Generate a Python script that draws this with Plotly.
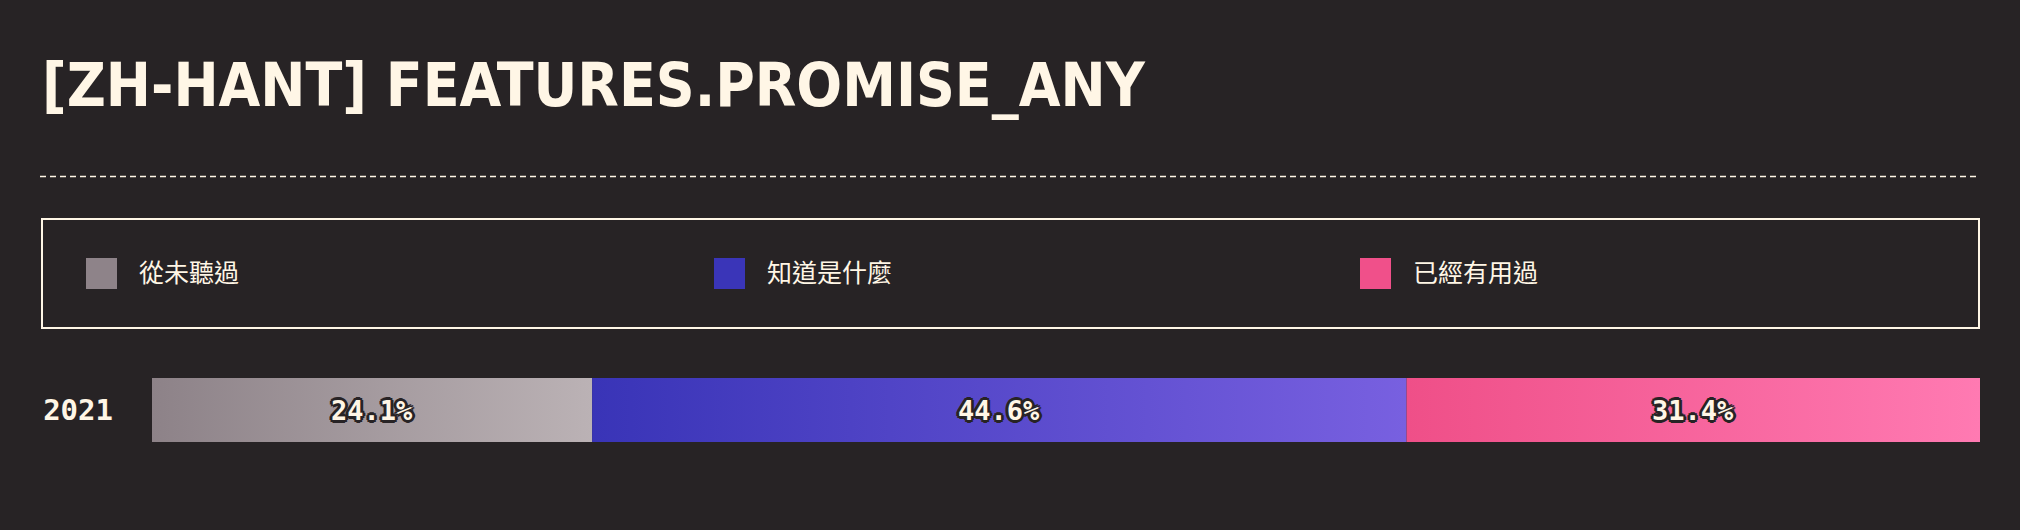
import plotly.graph_objects as go

# ---- data ----
title_text = "[ZH-HANT] FEATURES.PROMISE_ANY"
years = ["2021"]
categories = ["從未聽過", "知道是什麼", "已經有用過"]
values = [24.1, 44.6, 31.4]

# ---- styles ----
BG = "#272325"
CREAM = "#fff6e6"
swatch_colors = ["#8e8389", "#3a35b8", "#f0508a"]
grad_colors = [("#8d8288", "#bbb2b5"), ("#3934b7", "#7860e0"), ("#ef4f88", "#ff7ab2")]

W, H = 2020, 530
ML, MR, MT, MB = 152, 40, 360, 70
PW, PH = W - ML - MR, H - MT - MB


def px(x):
    return (x - ML) / PW


def py(y):
    return (H - MB - y) / PH


fig = go.Figure()
bar_half = 0.32
total = sum(values)
start = 0.0
outline = ", ".join(f"{dx}px {dy}px 0 #272325" for dx, dy in
                    [(-2, -2), (2, -2), (-2, 2), (2, 2), (0, 3), (0, -3), (3, 0), (-3, 0)])
for i, (cat, v) in enumerate(zip(categories, values)):
    x0 = start / total * 100
    x1 = (start + v) / total * 100
    c0, c1 = grad_colors[i]
    fig.add_trace(go.Scatter(
        x=[x0, x1, x1, x0, x0],
        y=[-bar_half, -bar_half, bar_half, bar_half, -bar_half],
        mode="lines", line=dict(width=0), fill="toself",
        fillgradient=dict(type="horizontal", colorscale=[[0, c0], [1, c1]]),
        name=cat, showlegend=False, hoverinfo="skip",
    ))
    fig.add_annotation(
        x=(x0 + x1) / 2, y=0, xref="x", yref="y", text=f"{v:.1f}%", showarrow=False,
        font=dict(family="DejaVu Sans Mono", size=27, color=CREAM, weight="bold", shadow=outline),
    )
    start += v

# title
fig.add_annotation(
    x=px(40), y=py(85), xref="paper", yref="paper", xanchor="left", yanchor="middle",
    text=title_text, showarrow=False,
    font=dict(family="DejaVu Sans Condensed", size=60, color=CREAM, weight="bold"),
)

shapes = []
# dashed separator
shapes.append(dict(type="line", xref="paper", yref="paper", x0=px(40), x1=px(1980),
                   y0=py(176.5), y1=py(176.5), line=dict(color=CREAM, width=1.5, dash="6px,4px")))
# legend box
shapes.append(dict(type="rect", xref="paper", yref="paper", x0=px(42), x1=px(1979),
                   y0=py(219), y1=py(328), line=dict(color=CREAM, width=2)))
legend_x = [86, 714, 1360]
for i, cat in enumerate(categories):
    shapes.append(dict(type="rect", xref="paper", yref="paper",
                       x0=px(legend_x[i]), x1=px(legend_x[i] + 31),
                       y0=py(258), y1=py(289), fillcolor=swatch_colors[i], line=dict(width=0)))
    fig.add_annotation(
        x=px(legend_x[i] + 51), y=py(271), xref="paper", yref="paper",
        xanchor="left", yanchor="middle", text=cat, showarrow=False,
        font=dict(family="Noto Sans CJK TC", size=25, color=CREAM),
    )

fig.update_layout(
    width=W, height=H,
    margin=dict(l=ML, r=MR, t=MT, b=MB),
    paper_bgcolor=BG, plot_bgcolor=BG,
    shapes=shapes,
    showlegend=False,
    xaxis=dict(range=[0, 100], visible=False, fixedrange=True),
    yaxis=dict(range=[-0.5, 0.5], tickvals=[0], ticktext=years, showgrid=False,
               zeroline=False, showline=False, ticks="", ticklabelstandoff=38,
               tickfont=dict(family="DejaVu Sans Mono", size=29, color=CREAM, weight="bold"),
               fixedrange=True),
)

fig.write_html("out.html", config={"displayModeBar": False},
               post_script="document.body.style.margin='0';document.body.style.background='#272325';")
